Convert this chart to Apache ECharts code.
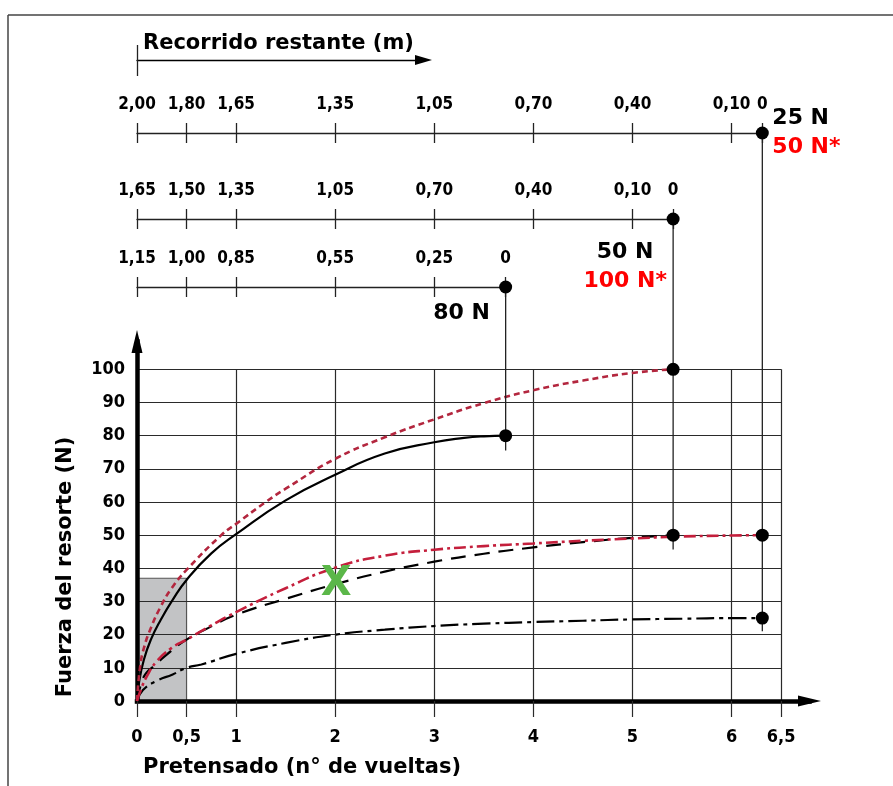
<!DOCTYPE html>
<html>
<head>
<meta charset="utf-8">
<script src="https://cdn.jsdelivr.net/npm/echarts@6/dist/echarts.min.js"></script>
<style>
  html, body { margin: 0; padding: 0; background: #fff; }
  #chart { width: 893px; height: 786px; }
</style>
</head>
<body>
<div id="chart"></div>
<script>
// --- datos ---
const turnTicks = [0, 0.5, 1, 2, 3, 4, 5, 6, 6.5]

// recorrido restante (m) por resorte
const travelTurns25 = [0, 0.5, 1, 2, 3, 4, 5, 6, 6.31]
const travel25 = [2.00, 1.80, 1.65, 1.35, 1.05, 0.70, 0.40, 0.10, 0]
const travelTurns50 = [0, 0.5, 1, 2, 3, 4, 5, 5.41]
const travel50 = [1.65, 1.50, 1.35, 1.05, 0.70, 0.40, 0.10, 0]
const travelTurns80 = [0, 0.5, 1, 2, 3, 3.72]
const travel80 = [1.15, 1.00, 0.85, 0.55, 0.25, 0]

// curvas fuerza (N) vs vueltas
const curve80 = [[0, 0], [0.02, 5.5], [0.07, 12.5], [0.14, 18.5], [0.24, 24.5], [0.36, 30.5], [0.5, 36.5], [0.75, 44.5], [1, 50.3], [1.5, 60.5], [2, 68.2], [2.5, 74.6], [3, 78], [3.3, 79.3], [3.5, 79.8], [3.72, 80]]
const curve100 = [[0, 0], [0.03, 10], [0.07, 16], [0.14, 22], [0.24, 28.5], [0.35, 34], [0.5, 39.5], [0.85, 50], [1, 53.4], [1.3, 60], [1.5, 64], [2, 73], [2.5, 79.5], [3, 84.9], [3.5, 89.8], [4, 93.7], [4.5, 96.6], [5, 98.9], [5.41, 100]]
const curve50red = [[0, 0], [0.04, 3.5], [0.1, 7.5], [0.2, 12], [0.35, 16], [0.5, 18.5], [0.75, 22.8], [1, 26.8], [1.5, 34], [2, 40.2], [2.5, 43.8], [3, 45.6], [3.5, 46.7], [4, 47.5], [4.5, 48.3], [5, 49], [5.5, 49.6], [6, 49.9], [6.31, 50]]
const curve50 = [[0, 0], [0.04, 5], [0.09, 8.3], [0.17, 10.5], [0.3, 14], [0.5, 18.5], [0.75, 22.5], [1, 26], [1.5, 30.8], [2, 35.2], [2.5, 39], [3, 42], [3.5, 44.4], [4, 46.3], [4.5, 47.9], [5, 49.2], [5.41, 50]]
const curve25 = [[0, 0], [0.06, 3.3], [0.2, 6.1], [0.36, 8], [0.5, 10], [0.65, 11], [1, 14.2], [1.5, 17.5], [2, 20], [2.5, 21.5], [3, 22.6], [3.5, 23.3], [4, 23.8], [4.5, 24.2], [5, 24.6], [5.5, 24.8], [6, 25], [6.31, 25]]

const shadeBox = [[0, 37], [0.5, 37], [0.5, 0]]
const markX = [[2.01, 35]]
const connectorLow = [21, 45.7, 75.5]
const forceBlack = ['25 N', '50 N', '80 N']
const forceRed = ['50 N*', '100 N*', null]

// --- maquetacion ---
const X0 = 137, Y0 = 701, PX = 99.1, PY = 3.317
const H = 786
const rowY = [133, 219, 287]
const xArrowMax = (821 - 11.5 - X0) / PX
const yArrowMax = (Y0 - 341.5) / PY
const numFont = { fontFamily: '"DejaVu Sans Condensed", "DejaVu Sans"', fontWeight: 'bold', color: '#000' }
const gridLine = { color: '#2a2a2a', width: 1.2 }

const rows = [
  { turns: travelTurns25, travel: travel25, labelPos: [16.5, 6.5], align: 'left', vAlign: 'middle' },
  { turns: travelTurns50, travel: travel50, labelPos: [-41.5, 25.5], align: 'center', vAlign: 'top' },
  { turns: travelTurns80, travel: travel80, labelPos: [-37.5, 32.5], align: 'center', vAlign: 'middle' }
]

const fmtTravel = (v) => v === 0 ? '0' : v.toFixed(2).replace('.', ',')
const lastOf = (arr) => arr[arr.length - 1]

const chart = echarts.init(document.getElementById('chart'))

const grids = [
  { left: X0, top: Y0 - 100 * PY, width: 6.5 * PX, height: 100 * PY },
  { left: X0, top: Y0 - yArrowMax * PY, width: xArrowMax * PX, height: yArrowMax * PY }
]
rows.forEach((r, i) => {
  grids.push({ left: X0, top: rowY[i], width: lastOf(r.turns) * PX, height: Y0 - rowY[i] })
})
grids.push({ left: X0, top: 60, width: 286.5, height: 16 })
grids.forEach(g => { g.outerBoundsMode = 'none'; g.containLabel = false })

const hidden = { splitLine: { show: false }, axisLine: { show: false, onZero: false }, axisTick: { show: false }, axisLabel: { show: false } }

const xAxes = [
  // rejilla principal
  Object.assign({}, hidden, {
    type: 'value', gridIndex: 0, min: 0, max: 6.5, interval: 1, z: 2,
    splitLine: { show: true, lineStyle: gridLine }
  }),
  // eje con flecha, marcas y etiquetas
  Object.assign({}, hidden, {
    type: 'value', gridIndex: 1, min: 0, max: xArrowMax, z: 2,
    axisLine: { show: true, onZero: false, symbol: ['none', 'triangle'], symbolSize: [11, 23], lineStyle: { color: '#000', width: 4.5, cap: 'square' } },
    axisTick: { show: true, customValues: turnTicks, length: 16, lineStyle: gridLine },
    axisLabel: Object.assign({ show: true, customValues: turnTicks, margin: 27, fontSize: 18, formatter: v => String(v).replace('.', ',') }, numFont)
  })
]
rows.forEach((r, i) => {
  xAxes.push(Object.assign({}, hidden, {
    type: 'value', gridIndex: 2 + i, position: 'top', min: 0, max: lastOf(r.turns),
    axisLine: { show: true, onZero: false, lineStyle: { color: '#222', width: 1.3 } },
    axisTick: { show: true, customValues: r.turns, length: 10, lineStyle: { color: '#222', width: 1.3 } },
    axisLabel: Object.assign({
      show: true, customValues: r.turns, margin: 20, fontSize: 17,
      formatter: v => fmtTravel(r.travel[r.turns.findIndex(t => Math.abs(t - v) < 1e-6)])
    }, numFont)
  }))
})
rows.forEach((r, i) => {
  xAxes.push(Object.assign({}, hidden, {
    type: 'value', gridIndex: 2 + i, position: 'bottom', offset: -(Y0 - rowY[i]), min: 0, max: lastOf(r.turns),
    axisTick: { show: true, customValues: r.turns, length: 10, lineStyle: { color: '#222', width: 1.3 } }
  }))
})
xAxes.push(Object.assign({}, hidden, {
  type: 'value', gridIndex: 5, position: 'top', min: 0, max: 1,
  axisLine: { show: true, onZero: false, symbol: ['none', 'triangle'], symbolSize: [10, 17], lineStyle: { color: '#000', width: 1.3 } },
  axisTick: { show: true, customValues: [0], length: 15, lineStyle: { color: '#222', width: 1.3 } }
}))
xAxes.push(Object.assign({}, hidden, {
  type: 'value', gridIndex: 5, position: 'bottom', min: 0, max: 1,
  axisTick: { show: true, inside: true, customValues: [0], length: 16, lineStyle: { color: '#222', width: 1.3 } }
}))

const yAxes = [
  Object.assign({}, hidden, {
    type: 'value', gridIndex: 0, min: 0, max: 100, interval: 10, z: 2,
    splitLine: { show: true, lineStyle: gridLine },
    axisLabel: Object.assign({ show: true, margin: 12, fontSize: 18 }, numFont)
  }),
  Object.assign({}, hidden, {
    type: 'value', gridIndex: 1, min: 0, max: yArrowMax, z: 2,
    axisLine: { show: true, onZero: false, symbol: ['none', 'triangle'], symbolSize: [11, 23], lineStyle: { color: '#000', width: 4.5, cap: 'square' } }
  })
]
rows.forEach((r, i) => {
  yAxes.push(Object.assign({}, hidden, { type: 'value', gridIndex: 2 + i, min: 0, max: (Y0 - rowY[i]) / PY }))
})
yAxes.push(Object.assign({}, hidden, { type: 'value', gridIndex: 5, min: 0, max: 1 }))

const curve = (data, color, type, width) => ({
  type: 'line', xAxisIndex: 0, yAxisIndex: 0, data, z: 3,
  symbol: 'none', smooth: 0.5,
  lineStyle: { color, type, width }
})

const series = [
  {
    type: 'line', xAxisIndex: 0, yAxisIndex: 0, data: shadeBox, z: 1, symbol: 'none',
    lineStyle: { color: '#555', width: 1.2 },
    areaStyle: { color: '#c2c3c5', opacity: 1 }
  },
  curve(curve25, '#000', [18, 5, 4, 5], 2.2),
  curve(curve50, '#000', [15, 9], 2.2),
  curve(curve80, '#000', 'solid', 2.2),
  curve(curve100, '#b3263e', [6, 4], 2.6),
  curve(curve50red, '#c41f3c', [12, 4, 3, 4], 2.6),
  {
    type: 'scatter', xAxisIndex: 0, yAxisIndex: 0, z: 4, clip: false,
    data: [curve80, curve100, curve50, curve50red, curve25].map(lastOf),
    symbolSize: 13, itemStyle: { color: '#000', opacity: 1 }
  },
  {
    type: 'scatter', xAxisIndex: 0, yAxisIndex: 0, z: 5, data: markX,
    symbolSize: 1, itemStyle: { color: 'rgba(0,0,0,0)', opacity: 1 },
    label: {
      show: true, position: 'inside', formatter: 'X',
      fontFamily: 'DejaVu Sans', fontWeight: 'bold', fontSize: 40, color: '#5bb749'
    }
  }
]

rows.forEach((r, i) => {
  const end = lastOf(r.turns)
  const top = (Y0 - rowY[i]) / PY
  series.push({
    type: 'line', xAxisIndex: 2 + i, yAxisIndex: 2 + i, symbol: 'none', clip: false, z: 3,
    data: [[end, connectorLow[i]], [end, top]],
    lineStyle: { color: '#222', width: 1.3 }
  })
  const richStyle = (color) => ({ fontFamily: 'DejaVu Sans', fontWeight: 'bold', fontSize: 22, lineHeight: 29, color, align: r.align })
  series.push({
    type: 'scatter', xAxisIndex: 2 + i, yAxisIndex: 2 + i, clip: false, z: 4,
    data: [[end, top]], symbolSize: 13, itemStyle: { color: '#000', opacity: 1 },
    label: {
      show: true, position: r.labelPos, align: r.align, verticalAlign: r.vAlign,
      formatter: forceRed[i] ? `{a|${forceBlack[i]}}\n{b|${forceRed[i]}}` : `{a|${forceBlack[i]}}`,
      rich: { a: richStyle('#000'), b: richStyle('#ff0000') }
    }
  })
})

const titleFont = 'bold 21px "DejaVu Sans"'

chart.setOption({
  animation: false,
  backgroundColor: '#fff',
  grid: grids,
  xAxis: xAxes,
  yAxis: yAxes,
  series,
  graphic: [
    { type: 'line', shape: { x1: 8, y1: 15, x2: 893, y2: 15 }, style: { stroke: '#444', lineWidth: 1.5 } },
    { type: 'line', shape: { x1: 8, y1: 15, x2: 8, y2: H }, style: { stroke: '#444', lineWidth: 1.5 } },
    { type: 'text', x: 143, y: 44, style: { text: 'Recorrido restante (m)', font: titleFont, fill: '#000', verticalAlign: 'middle' } },
    { type: 'text', x: 143, y: 768, style: { text: 'Pretensado (n° de vueltas)', font: titleFont, fill: '#000', verticalAlign: 'middle' } },
    { type: 'text', x: 66, y: 567, rotation: Math.PI / 2, style: { text: 'Fuerza del resorte (N)', font: titleFont, fill: '#000', align: 'center', verticalAlign: 'middle' } }
  ]
})
</script>
</body>
</html>
